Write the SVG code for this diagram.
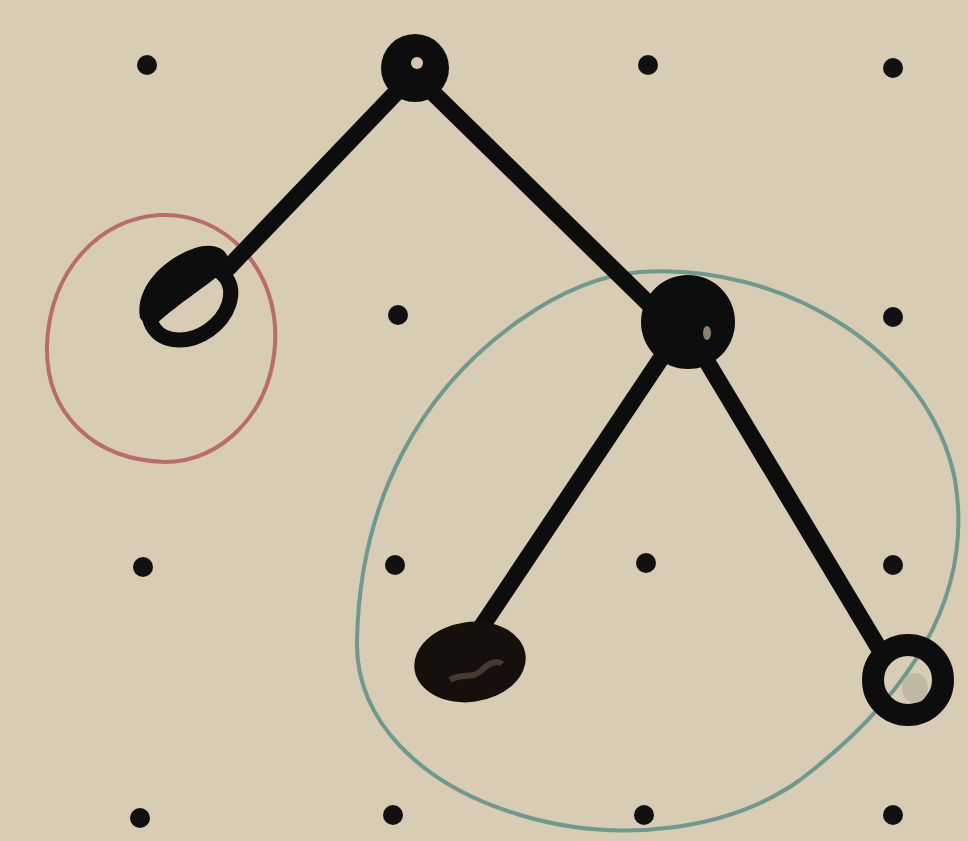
<svg xmlns="http://www.w3.org/2000/svg" width="968" height="841" viewBox="0 0 968 841">
<style>
.dot{fill:#111}
.edge{stroke:#0d0d0d;stroke-width:17;stroke-linecap:round;fill:none}
.ink{fill:#0d0d0d}
.hole{fill:#d3c7ae}
</style>
<rect width="968" height="841" fill="#d8cdb4"/>
<g id="grid">
<circle class="dot" cx="147" cy="65" r="10"/>
<circle class="dot" cx="648" cy="65" r="10"/>
<circle class="dot" cx="893" cy="68" r="10"/>
<circle class="dot" cx="398" cy="315" r="10"/>
<circle class="dot" cx="893" cy="317" r="10"/>
<circle class="dot" cx="143" cy="567" r="10"/>
<circle class="dot" cx="395" cy="565" r="10"/>
<circle class="dot" cx="646" cy="563" r="10"/>
<circle class="dot" cx="893" cy="565" r="10"/>
<circle class="dot" cx="140" cy="818" r="10"/>
<circle class="dot" cx="393" cy="815" r="10"/>
<circle class="dot" cx="644" cy="815" r="10"/>
<circle class="dot" cx="893" cy="815" r="10"/>
</g>
<g id="groups" fill="none">
<path d="M160 215 C225 212 280 270 275 345 C270 415 220 462 165 462 C95 460 45 415 47 345 C50 270 100 218 160 215 Z" stroke="#b0545a" stroke-width="4" opacity="0.8"/>
<path d="M640 272 C780 262 930 350 955 480 C975 600 905 700 800 780 C730 830 620 845 520 815 C420 785 355 720 357 640 C360 500 420 390 520 320 C560 292 600 275 640 272 Z" stroke="#4d8582" stroke-width="4" opacity="0.75"/>
</g>
<g id="connectors">
<path class="edge" d="M410 78 L228 268"/>
<path class="edge" d="M422 82 L650 305"/>
<path class="edge" d="M670 345 L478 632"/>
<path class="edge" d="M700 350 L880 650"/>
</g>
<g id="node-root">
<circle class="ink" cx="415" cy="68" r="34"/>
<circle class="hole" cx="417" cy="63" r="6"/>
</g>
<g id="node-left">
<ellipse cx="190" cy="303" rx="44" ry="33" transform="rotate(-35 190 303)" fill="none" stroke="#0d0d0d" stroke-width="15"/>
<path d="M140 318 C135 290 160 260 195 248 C220 240 235 255 225 270 C205 288 175 305 150 330 Z" class="ink"/>
</g>
<g id="node-mid">
<circle class="ink" cx="688" cy="322" r="47"/>
<ellipse cx="707" cy="333" rx="4" ry="7" fill="#8a8070"/>
</g>
<g id="node-bottom-left">
<ellipse cx="470" cy="662" rx="56" ry="40" transform="rotate(-8 470 662)" fill="#15100c"/>
<path d="M450 680 C462 672 472 680 482 670 C490 662 498 660 502 664" stroke="#5a4e40" stroke-width="6" fill="none" opacity="0.7"/>
</g>
<g id="node-bottom-right">
<circle cx="908" cy="680" r="35" fill="none" stroke="#0d0d0d" stroke-width="22"/>
<ellipse cx="915" cy="688" rx="13" ry="15" fill="#bdb9a5"/>
</g>
</svg>
